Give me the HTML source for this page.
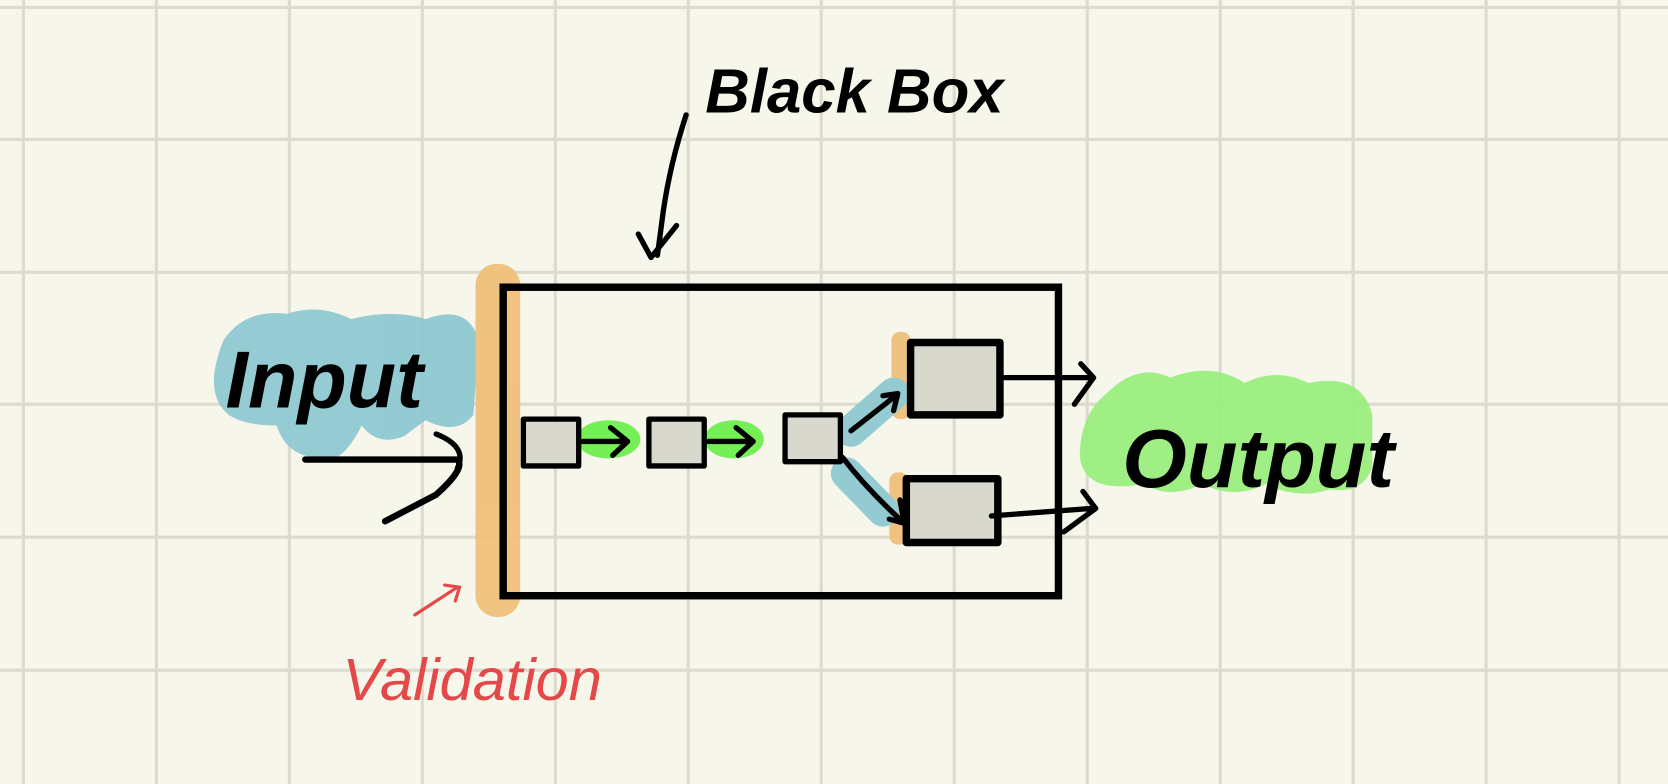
<!DOCTYPE html>
<html><head><meta charset="utf-8"><style>
html,body{margin:0;padding:0;background:#f6f6eb;width:1668px;height:784px;overflow:hidden}
svg{display:block}
text{font-family:"Liberation Sans",sans-serif;font-style:italic;font-weight:bold}
</style></head><body>
<svg width="1668" height="784" viewBox="0 0 1568 737" preserveAspectRatio="none">
<rect width="1568" height="737" fill="#f6f6eb"/>
<g stroke="#dcdbcd" stroke-width="3">
<line x1="22" y1="0" x2="22" y2="737"/><line x1="147" y1="0" x2="147" y2="737"/><line x1="272" y1="0" x2="272" y2="737"/><line x1="397" y1="0" x2="397" y2="737"/><line x1="522" y1="0" x2="522" y2="737"/><line x1="647" y1="0" x2="647" y2="737"/><line x1="772" y1="0" x2="772" y2="737"/><line x1="897" y1="0" x2="897" y2="737"/><line x1="1022" y1="0" x2="1022" y2="737"/><line x1="1147" y1="0" x2="1147" y2="737"/><line x1="1272" y1="0" x2="1272" y2="737"/><line x1="1397" y1="0" x2="1397" y2="737"/><line x1="1522" y1="0" x2="1522" y2="737"/>
<line x1="0" y1="7" x2="1568" y2="7"/><line x1="0" y1="131" x2="1568" y2="131"/><line x1="0" y1="256" x2="1568" y2="256"/><line x1="0" y1="380" x2="1568" y2="380"/><line x1="0" y1="505" x2="1568" y2="505"/><line x1="0" y1="630" x2="1568" y2="630"/>
</g>
<g opacity="0.95">
<path d="M210,320 Q230,290 270,295 Q300,285 330,300 Q370,290 400,300 Q440,285 450,320 L445,390 Q430,410 400,395 L380,410 Q355,420 340,400 Q320,440 300,430 Q270,430 260,400 Q230,400 215,390 Q190,370 210,320Z" fill="#8fc9d2"/>
<path d="M1040,370 Q1070,340 1100,355 Q1140,340 1170,360 Q1200,345 1230,360 Q1280,350 1290,390 L1290,440 Q1280,465 1250,460 Q1220,470 1190,455 Q1160,470 1130,455 Q1100,470 1075,455 Q1020,465 1015,430 Q1015,390 1040,370Z" fill="#9aee80"/>
<rect x="447" y="248" width="42" height="332" rx="20" fill="#efc07a"/>
<rect x="838" y="312" width="18" height="82" rx="8" fill="#efc07a"/>
<rect x="836" y="444" width="18" height="68" rx="8" fill="#efc07a"/>
<line x1="800" y1="405" x2="840" y2="370" stroke="#8fc9d2" stroke-width="30" stroke-linecap="round"/>
<line x1="796" y1="445" x2="830" y2="480" stroke="#8fc9d2" stroke-width="30" stroke-linecap="round"/>
<ellipse cx="572" cy="413" rx="30" ry="18" fill="#6fef4f"/>
<ellipse cx="690" cy="413" rx="28" ry="18" fill="#6fef4f"/>
</g>
<rect x="473" y="270" width="522" height="290" fill="none" stroke="#000" stroke-width="7"/>
<g stroke="#000" stroke-width="5" fill="#d8d8cc" stroke-linecap="round" stroke-linejoin="round">
<rect x="492" y="394" width="52" height="44"/>
<rect x="610" y="394" width="52" height="44"/>
<rect x="738" y="390" width="52" height="44"/>
<rect x="856" y="322" width="84" height="68" stroke-width="7"/>
<rect x="852" y="450" width="86" height="60" stroke-width="7"/>
</g>
<g stroke="#000" stroke-width="5" fill="none" stroke-linecap="round" stroke-linejoin="round">
<path d="M548,415 H588 M574,402 L590,415 L576,428"/>
<path d="M666,415 H706 M692,402 L708,415 L694,428"/>
<path d="M800,405 L842,372 M830,372 L844,370 L840,386"/>
<path d="M792,430 Q815,460 848,490 M846,470 L850,492 L836,488"/>
<path d="M942,355 H1025 M1016,342 L1028,355 L1010,380"/>
<path d="M932,485 L1025,478 M1018,462 L1030,478 L1000,500"/>
<path d="M287,432 H430 Q438,440 410,465 L362,490" stroke-width="6"/>
<path d="M410,408 Q440,420 430,440"/>
<path d="M645,108 Q628,160 622,210 Q620,225 618,240 M600,220 L612,242 L636,212" stroke-width="5"/>
</g>
<path d="M390,578 L430,552 M418,550 L432,552 L428,565" stroke="#e54848" stroke-width="3" fill="none" stroke-linecap="round"/>
<text x="663" y="106" font-size="58" fill="#000">Black Box</text>
<text x="212" y="383" font-size="76" fill="#000">Input</text>
<text x="1055" y="458" font-size="78" fill="#000">Output</text>
<text x="322" y="658" font-size="56" fill="#e54848" style="font-weight:normal">Validation</text>
</svg>
</body></html>
